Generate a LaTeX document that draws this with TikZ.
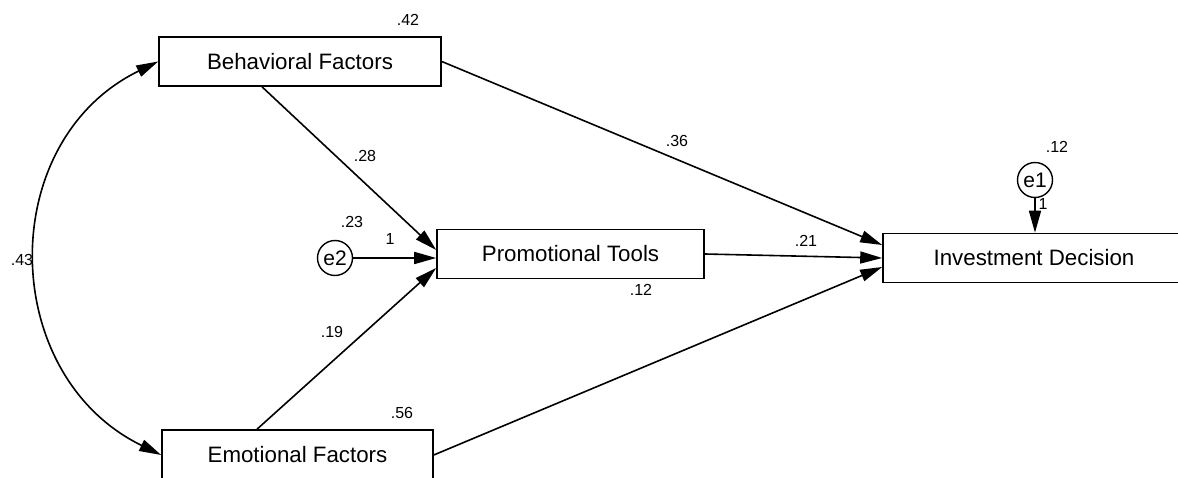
\documentclass[tikz,border=0pt]{standalone}
\usepackage{fontspec}
\setmainfont{Liberation Sans}
\usetikzlibrary{arrows.meta,calc}

\tikzset{
  var/.style={draw, line width=1.6pt, fill=white, minimum height=49pt,
              inner sep=0pt, font=\fontsize{22.3}{25}\selectfont},
  err/.style={draw, circle, line width=1.4pt, fill=white, minimum size=35pt,
              inner sep=0pt, font=\fontsize{21}{23}\selectfont},
  path/.style={line width=1.6pt, -{Triangle[length=22pt,width=12pt]}},
  coef/.style={font=\fontsize{16}{18}\selectfont, inner sep=0pt}
}

\begin{document}
\begin{tikzpicture}[x=1pt,y=1pt]
  \useasboundingbox (0,0) rectangle (1178,477);
  \clip (0,0) rectangle (1178,477);

  % observed variables
  \node[var, minimum width=282pt] (bf) at (300,415.5) {Behavioral Factors};
  \node[var, minimum width=267pt] (pt) at (570.5,223) {Promotional Tools};
  \node[var, minimum width=302pt] (id) at (1034,219) {Investment Decision};
  \node[var, minimum width=271pt, minimum height=50pt] (ef) at (297.5,22) {Emotional Factors};

  % error terms
  \node[err] (e2) at (335,219) {e2};
  \node[err] (e1) at (1035,297) {e1};

  % regression paths
  \draw[path] ($(bf.south)+(-38,0)$) -- ($(pt.west)+(0,4)$);
  \draw[path] (bf.east) -- ($(id.west)+(0,13)$);
  \draw[path] (pt.east) -- (id.west);
  \draw[path] ($(ef.north)+(-40.5,0)$) -- ($(pt.west)+(0,-14)$);
  \draw[path] (ef.east) -- ($(id.west)+(0,-9)$);
  \draw[path] (e2.east) -- (e2.east -| pt.west);
  \draw[path] (e1.south) -- (e1.south |- id.north);

  % covariance between the exogenous factors
  \draw[line width=1.6pt, {Triangle[length=22pt,width=12pt]}-{Triangle[length=22pt,width=12pt]}]
    (bf.west) to[out=206,in=154,looseness=1.18] (ef.west);

  % estimates
  \node[coef] (r2bf) at (408,457) {.42};
  \node[coef] (r2pt) at (352,255) {.23};
  \node[coef] (r2id) at (1057,330) {.12};
  \node[coef] (r2ef) at (402,64) {.56};
  \node[coef] (cov)  at (22,217) {.43};
  \node[coef] (wbp)  at (365,321) {.28};
  \node[coef] (wbi)  at (677,336) {.36};
  \node[coef] (wpi)  at (806,236) {.21};
  \node[coef] (wep)  at (332,145) {.19};
  \node[coef] (wei)  at (641,187) {.12};
  \node[coef] (we2)  at (390,238) {1};
  \node[coef] (we1)  at (1043,273) {1};
\end{tikzpicture}
\end{document}
